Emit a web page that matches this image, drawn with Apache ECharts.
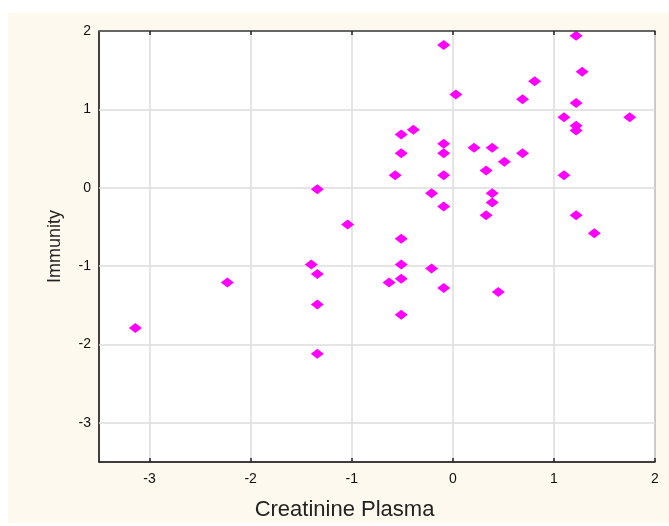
<!DOCTYPE html>
<html><head><meta charset="utf-8">
<script src="https://cdn.jsdelivr.net/npm/echarts@6/dist/echarts.min.js"></script>
<style>html,body{margin:0;padding:0;background:#fff;}#c{width:669px;height:526px;}</style>
</head><body><div id="c"></div>
<script>
const creatinine = [-0.09,1.22,1.28,0.81,0.03,0.69,1.22,1.10,1.75,1.22,1.22,-0.39,-0.51,-0.09,-0.09,-0.51,0.21,0.39,0.69,0.51,0.33,-0.57,-0.09,1.10,-1.34,-0.21,0.39,0.39,-0.09,0.33,1.22,-1.04,1.40,-0.51,-1.40,-1.34,-0.51,-0.21,-0.51,-0.63,-2.23,-0.09,0.45,-1.34,-0.51,-3.14,-1.34];
const immunity   = [1.82,1.94,1.48,1.36,1.19,1.13,1.08,0.90,0.90,0.79,0.73,0.74,0.68,0.56,0.44,0.44,0.51,0.51,0.44,0.33,0.22,0.16,0.16,0.16,-0.02,-0.07,-0.07,-0.19,-0.24,-0.35,-0.35,-0.47,-0.58,-0.65,-0.98,-1.10,-0.98,-1.03,-1.16,-1.21,-1.21,-1.28,-1.33,-1.49,-1.62,-1.79,-2.12];
const xTicks = [-3,-2,-1,0,1,2];
const yTicks = [-3,-2,-1,0,1,2];
const points = creatinine.map((v,i)=>[v, immunity[i]]);
const chart = echarts.init(document.getElementById('c'));
const font = 'Liberation Sans, Arial, sans-serif';
const gridLines = xTicks.map(v=>({xAxis:v})).concat(yTicks.map(v=>({yAxis:v})));
chart.setOption({
  animation:false,
  backgroundColor:'#fff',
  graphic:[{type:'rect',z:-10,shape:{x:8,y:13,width:661,height:510},style:{fill:'#fef9ee'}}],
  grid:{left:99,right:14,top:31,bottom:64,show:true,backgroundColor:'#fff',borderColor:'#333',borderWidth:1},
  xAxis:[{
    type:'value',min:-3.5,max:2,interval:0.5,z:10,
    name:'Creatinine Plasma',nameLocation:'middle',nameGap:37,
    nameTextStyle:{fontFamily:font,fontSize:22,color:'#222',padding:[0,65,0,0]},
    axisLine:{show:true,onZero:false,lineStyle:{color:'#222',width:1.5}},
    axisTick:{show:true,inside:true,length:4,lineStyle:{color:'#222',width:1.5},customValues:xTicks},
    axisLabel:{fontFamily:font,fontSize:14,color:'#111',margin:10,customValues:xTicks},
    splitLine:{show:false}
  },{
    type:'value',position:'top',min:-3.5,max:2,interval:0.5,z:10,
    axisLine:{show:true,onZero:false,lineStyle:{color:'#444',width:1.5}},
    axisTick:{show:true,inside:true,length:4,lineStyle:{color:'#222',width:1.5},customValues:xTicks},
    axisLabel:{show:false},splitLine:{show:false}
  }],
  yAxis:{
    type:'value',min:-3.5,max:2,interval:0.5,
    name:'Immunity',nameLocation:'middle',nameGap:35,nameRotate:90,
    nameTextStyle:{fontFamily:font,fontSize:18,color:'#222'},
    axisLine:{show:true,onZero:false,lineStyle:{color:'#222',width:1.5}},
    axisTick:{show:false},
    axisLabel:{fontFamily:font,fontSize:14,color:'#111',margin:8,customValues:yTicks},
    splitLine:{show:false}
  },
  series:[{type:'scatter',data:[],z:1,silent:true,
      markLine:{silent:true,z:1,symbol:'none',label:{show:false},animation:false,
        lineStyle:{color:'#ddd',width:1.5,type:'solid'},data:gridLines}},
    {type:'scatter',data:points,symbol:'diamond',symbolSize:[13,10],z:3,
    itemStyle:{color:'#ff00ff',opacity:1}}]
});
</script></body></html>
